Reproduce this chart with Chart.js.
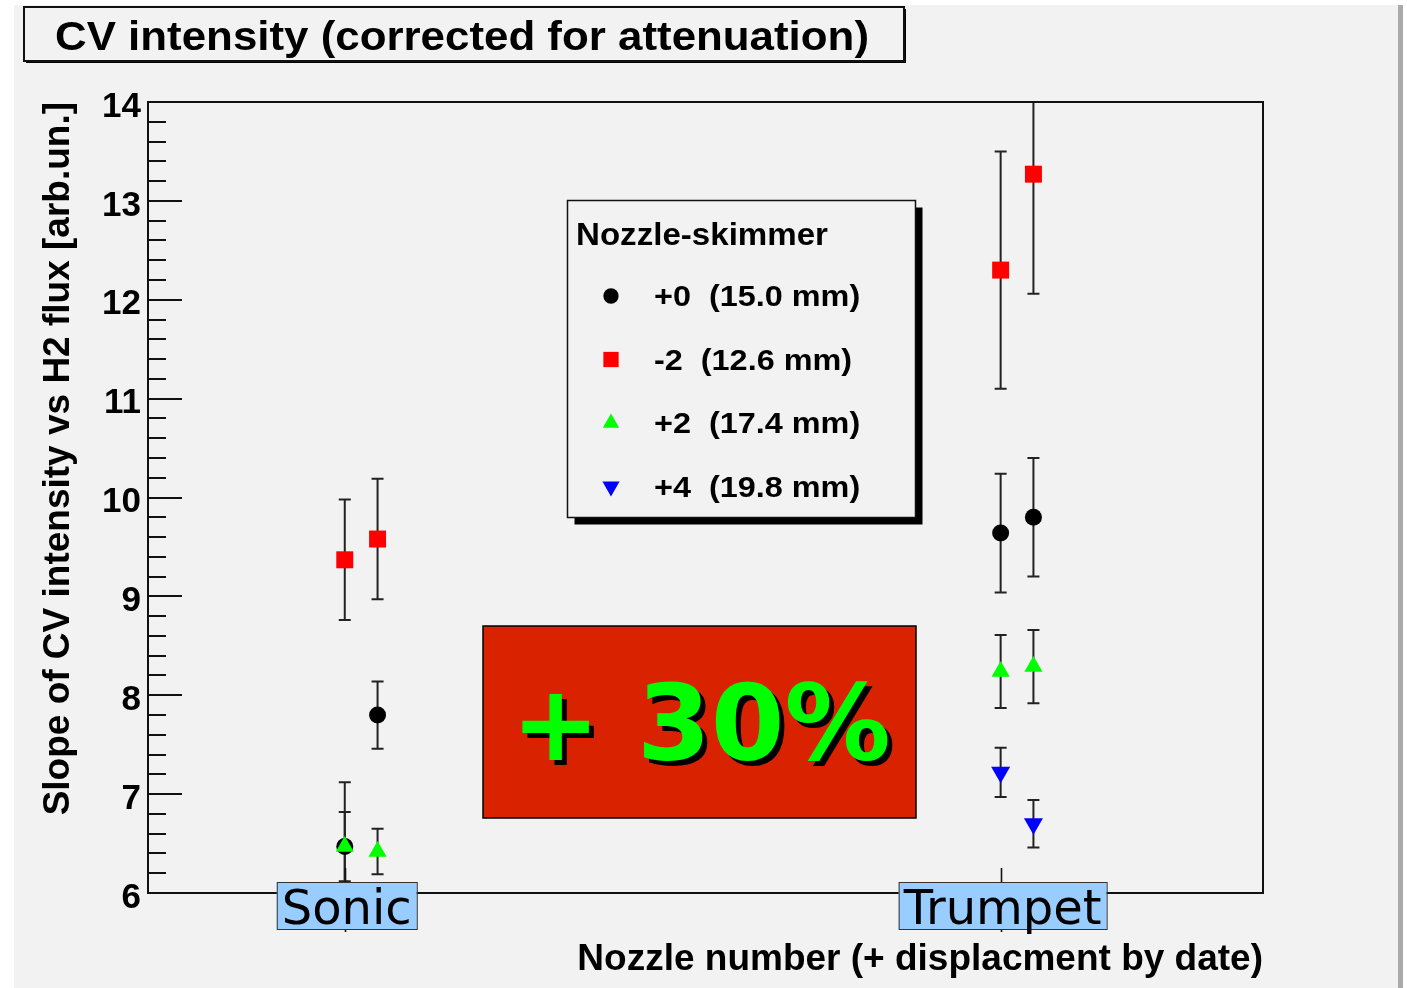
<!DOCTYPE html>
<html>
<head>
<meta charset="utf-8">
<title>CV intensity (corrected for attenuation)</title>
<script src="https://cdn.jsdelivr.net/npm/chart.js@4"></script>
<style>
    body { margin: 0; background: #fff; }
    #wrap { width: 1407px; height: 988px; }
</style>
</head>
<body>
<div id="wrap"><canvas id="chart" width="1407" height="988"></canvas></div>
<script>
// categories on the x axis
const nozzleNames = ["Sonic", "Trumpet"];
const nozzlePos = [1, 2];

// series (nozzle-skimmer distance)
const seriesNames = ["+0  (15.0 mm)", "-2  (12.6 mm)", "+2  (17.4 mm)", "+4  (19.8 mm)"];

const xZero = [1, 1.05, 2, 2.05];
const yZero = [6.47, 7.8, 9.64, 9.8];
const eZero = [0.65, 0.34, 0.6, 0.6];

const xMinus2 = [1, 1.05, 2, 2.05];
const yMinus2 = [9.37, 9.58, 12.3, 13.27];
const eMinus2 = [0.61, 0.61, 1.2, 1.21];

const xPlus2 = [1, 1.05, 2, 2.05];
const yPlus2 = [6.47, 6.42, 8.24, 8.29];
const ePlus2 = [0.35, 0.23, 0.37, 0.37];

const xPlus4 = [2, 2.05];
const yPlus4 = [7.22, 6.7];
const ePlus4 = [0.25, 0.24];

const yMin = 6;
const yMax = 14;
const highlight = "+ 30%";

const helv = "'Liberation Sans', Arial, Helvetica, sans-serif";
const dejavu = "'DejaVu Sans', Verdana, sans-serif";

function points(xs, ys) {
    return xs.map((x, i) => ({ x: x, y: ys[i] }));
}

// text squeezed/stretched horizontally to reach a given width
function fitText(ctx, text, x, y, font, width, align) {
    ctx.save();
    ctx.font = font;
    const k = width ? width / ctx.measureText(text).width : 1;
    ctx.translate(x, y);
    ctx.scale(k, 1);
    ctx.textAlign = align || "left";
    ctx.textBaseline = "alphabetic";
    ctx.fillText(text, 0, 0);
    ctx.restore();
}

function shadowBox(ctx, x, y, w, h, off, lw) {
    ctx.fillStyle = "#000";
    ctx.fillRect(x + off, y + off, w, h);
    ctx.fillStyle = "#f2f2f2";
    ctx.fillRect(x, y, w, h);
    ctx.lineWidth = lw;
    ctx.strokeStyle = "#111";
    ctx.strokeRect(x, y, w, h);
}

const pagePlugin = {
    id: "page",
    beforeDraw(chart) {
        const ctx = chart.ctx;
        ctx.save();
        ctx.fillStyle = "#fff";
        ctx.fillRect(0, 0, chart.width, chart.height);
        ctx.fillStyle = "#f2f2f2";
        ctx.fillRect(14, 5, 1384, chart.height - 5);
        ctx.fillStyle = "#aaaaaa";
        ctx.fillRect(1398, 5, 5, chart.height - 5);
        ctx.restore();
    },
};

const errorBarPlugin = {
    id: "errorBars",
    beforeDatasetsDraw(chart) {
        const ctx = chart.ctx;
        const area = chart.chartArea;
        const xs = chart.scales.x;
        const ys = chart.scales.y;
        ctx.save();
        ctx.beginPath();
        ctx.rect(area.left, area.top, area.right - area.left, area.bottom - area.top);
        ctx.clip();
        ctx.strokeStyle = "#222";
        ctx.lineWidth = 2;
        chart.data.datasets.forEach((ds) => {
            ds.data.forEach((p, j) => {
                const e = ds.errors[j];
                const px = xs.getPixelForValue(p.x);
                const top = ys.getPixelForValue(p.y + e);
                const bot = ys.getPixelForValue(p.y - e);
                ctx.beginPath();
                ctx.moveTo(px, top);
                ctx.lineTo(px, bot);
                ctx.moveTo(px - 6, top);
                ctx.lineTo(px + 6, top);
                ctx.moveTo(px - 6, bot);
                ctx.lineTo(px + 6, bot);
                ctx.stroke();
            });
        });
        ctx.restore();
    },
};

const decorPlugin = {
    id: "decor",
    afterDraw(chart) {
        const ctx = chart.ctx;
        const area = chart.chartArea;
        const xs = chart.scales.x;
        const ys = chart.scales.y;
        ctx.save();

        // frame and inner ticks
        ctx.strokeStyle = "#111";
        ctx.lineWidth = 2;
        ctx.strokeRect(area.left, area.top, area.right - area.left, area.bottom - area.top);
        ctx.lineWidth = 2;
        for (let i = 0; i <= (yMax - yMin) * 5; i++) {
            const py = Math.round(ys.getPixelForValue(yMin + i * 0.2));
            const len = i % 5 === 0 ? 34 : 18;
            ctx.beginPath();
            ctx.moveTo(area.left, py);
            ctx.lineTo(area.left + len, py);
            ctx.stroke();
        }
        ctx.lineWidth = 1.6;
        nozzlePos.forEach((v) => {
            const px = Math.round(xs.getPixelForValue(v)) + 0.5;
            ctx.beginPath();
            ctx.moveTo(px, area.bottom - 25);
            ctx.lineTo(px, area.bottom + 39);
            ctx.stroke();
        });

        // category labels in blue boxes
        ctx.font = "48px " + dejavu;
        nozzleNames.forEach((name, i) => {
            const px = xs.getPixelForValue(nozzlePos[i]) + 2;
            const w = ctx.measureText(name).width + 10;
            ctx.fillStyle = "#99ccff";
            ctx.fillRect(px - w / 2, area.bottom - 11, w, 47);
            ctx.strokeStyle = "#333";
            ctx.lineWidth = 1;
            ctx.strokeRect(px - w / 2 + 0.5, area.bottom - 10.5, w, 47);
            ctx.fillStyle = "#000";
            ctx.textAlign = "center";
            ctx.fillText(name, px, area.bottom + 31);
        });

        // title box
        shadowBox(ctx, 24, 7, 880, 54, 2, 2);
        ctx.fillStyle = "#000";
        fitText(ctx, "CV intensity (corrected for attenuation)", 462, 50, "bold 40px " + helv, 814, "center");

        // legend
        shadowBox(ctx, 567.5, 200.5, 348, 317, 7, 1.5);
        ctx.fillStyle = "#000";
        fitText(ctx, "Nozzle-skimmer", 576, 245, "bold 31px " + helv, 252, "left");
        chart.data.datasets.forEach((ds, i) => {
            const cy = 296 + i * 63.5;
            ctx.fillStyle = ds.backgroundColor;
            Chart.helpers.drawPoint(ctx, {
                pointStyle: ds.pointStyle,
                radius: ds.pointRadius * 0.9,
                rotation: ds.pointRotation || 0,
                borderWidth: 0,
            }, 611, cy);
            ctx.fillStyle = "#000";
            ctx.font = "bold 30px " + helv;
            const w = ctx.measureText(ds.label).width * 1.08;
            fitText(ctx, ds.label, 654, cy + 10, "bold 30px " + helv, w, "left");
        });

        // highlighted gain
        ctx.fillStyle = "#d92200";
        ctx.fillRect(483, 626, 433, 192);
        ctx.strokeStyle = "#000";
        ctx.lineWidth = 1.5;
        ctx.strokeRect(483, 626, 433, 192);
        ctx.font = "bold 106px " + dejavu;
        ctx.textAlign = "center";
        ctx.fillStyle = "#000";
        ctx.fillText(highlight, 706, 765);
        ctx.fillStyle = "#00ff00";
        ctx.fillText(highlight, 701, 760);

        ctx.restore();
    },
};

Chart.defaults.color = "#000";

new Chart(document.getElementById("chart"), {
    type: "scatter",
    data: {
        datasets: [
            {
                label: seriesNames[0],
                data: points(xZero, yZero),
                errors: eZero,
                pointStyle: "circle",
                pointRadius: 8.5,
                backgroundColor: "#000000",
                borderWidth: 0,
                order: 3,
            },
            {
                label: seriesNames[1],
                data: points(xMinus2, yMinus2),
                errors: eMinus2,
                pointStyle: "rect",
                pointRadius: 12,
                backgroundColor: "#ff0000",
                borderWidth: 0,
                order: 2,
            },
            {
                label: seriesNames[2],
                data: points(xPlus2, yPlus2),
                errors: ePlus2,
                pointStyle: "triangle",
                pointRadius: 10.5,
                backgroundColor: "#00ff00",
                borderWidth: 0,
                order: 1,
            },
            {
                label: seriesNames[3],
                data: points(xPlus4, yPlus4),
                errors: ePlus4,
                pointStyle: "triangle",
                pointRotation: 180,
                pointRadius: 11,
                backgroundColor: "#0000ff",
                borderWidth: 0,
                order: 0,
            },
        ],
    },
    options: {
        responsive: false,
        animation: false,
        devicePixelRatio: 1,
        layout: { padding: { top: 102, left: 14, right: 144, bottom: 6 } },
        plugins: {
            legend: { display: false },
            tooltip: { enabled: false },
        },
        scales: {
            x: {
                type: "linear",
                min: 0.7,
                max: 2.4,
                grid: { display: false },
                border: { display: false },
                ticks: { display: false },
                title: {
                    display: true,
                    text: "Nozzle number (+ displacment by date)",
                    align: "end",
                    font: { family: helv, size: 37, weight: "bold" },
                    padding: 0,
                },
                afterFit: (scale) => {
                    scale.height = 89;
                },
            },
            y: {
                min: yMin,
                max: yMax,
                grid: { display: false, drawTicks: false },
                border: { display: false },
                ticks: {
                    stepSize: 1,
                    padding: 7,
                    labelOffset: 5,
                    font: { family: helv, size: 35, weight: "bold" },
                },
                title: {
                    display: true,
                    text: "Slope of CV intensity vs H2 flux [arb.un.]",
                    align: "end",
                    font: { family: helv, size: 37, weight: "bold" },
                    padding: { top: 23, bottom: 0 },
                },
                afterFit: (scale) => {
                    scale.width = 134;
                },
            },
        },
    },
    plugins: [pagePlugin, errorBarPlugin, decorPlugin],
});
</script>
</body>
</html>
